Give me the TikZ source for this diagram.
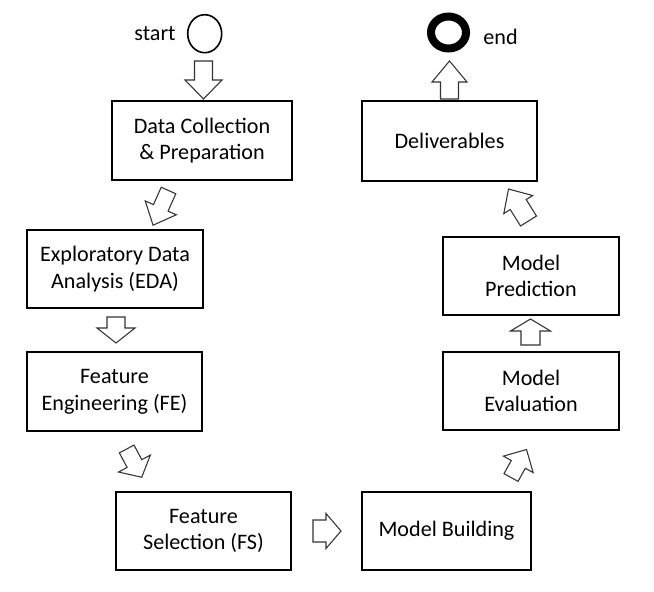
\documentclass[tikz,border=0pt]{standalone}
\usepackage{fontspec}
\setmainfont{Carlito}
\usetikzlibrary{shapes.geometric}
\tikzset{
  box/.style={draw=black, line width=0.9pt, align=center, inner sep=0pt,
    font=\fontsize{16.6pt}{20pt}\selectfont},
  lbl/.style={inner sep=0pt, font=\fontsize{16.6pt}{20pt}\selectfont},
  barrowline/.style={draw=black!80, fill=white, line width=0.8pt, line join=miter}
}
% tail x, tail y, angle, length, head length, shaft half width, head half width
\newcommand\blkarrow[7]{%
  \begin{scope}[shift={(#1,#2)}, rotate=#3]
    \pgfmathsetmacro\bsl{#4-#5}
    \draw[barrowline] (0,-#6) -- (\bsl,-#6) -- (\bsl,-#7) -- (#4,0)
      -- (\bsl,#7) -- (\bsl,#6) -- (0,#6) -- cycle;
  \end{scope}}
\begin{document}
\begin{tikzpicture}[x=0.75pt, y=-0.75pt]
\useasboundingbox[fill=white] (0,0) rectangle (654,592);

% start / end
\node[lbl] (starttxt) at (155,34) {start};
\node[draw, ellipse, line width=1.2pt, minimum width=34*0.75pt, minimum height=38*0.75pt, inner sep=0pt] (start) at (204.7,33.7) {};
\node[draw, ellipse, line width=6pt, minimum width=35*0.75pt, minimum height=32*0.75pt, inner sep=0pt] (end) at (448.5,32.5) {};
\node[lbl] (endtxt) at (500.5,37) {end};

% boxes
\node[box, minimum width=180*0.75pt, minimum height=79*0.75pt] (dc) at (202,140.5) {Data Collection\\ \& Preparation};
\node[box, minimum width=176*0.75pt, minimum height=78*0.75pt] (eda) at (115,269) {Exploratory Data\\ Analysis (EDA)};
\node[box, minimum width=175*0.75pt, minimum height=79*0.75pt] (fe) at (114.5,391.5) {Feature\\ Engineering (FE)};
\node[box, minimum width=175*0.75pt, minimum height=78*0.75pt] (fs) at (203.5,531) {Feature\\ Selection (FS)};
\node[box, minimum width=169*0.75pt, minimum height=78*0.75pt] (mb) at (446.5,531) {Model Building};
\node[box, minimum width=176*0.75pt, minimum height=78*0.75pt] (me) at (531,391) {Model\\ Evaluation};
\node[box, minimum width=176*0.75pt, minimum height=78*0.75pt] (mp) at (531,276) {Model\\ Prediction};
\node[box, minimum width=175*0.75pt, minimum height=80*0.75pt] (dl) at (449.5,141) {Deliverables};

% block arrows
\blkarrow{203.5}{61}{-90}{38}{19}{9}{18.5}
\blkarrow{168.5}{190.5}{-114}{38}{19}{8}{17}
\blkarrow{116}{317}{-90}{26}{15}{9}{19}
\blkarrow{126.7}{449}{-62}{32}{15.5}{8.3}{18}
\blkarrow{313}{531}{0}{28}{15}{11}{17.5}
\blkarrow{511}{477.5}{61}{32}{17}{8}{17}
\blkarrow{530.5}{345}{90}{26}{12}{9.5}{20}
\blkarrow{528.5}{221}{122}{37.7}{18.3}{9.4}{17}
\blkarrow{449.5}{99}{90}{38}{21}{9}{17.5}
\end{tikzpicture}
\end{document}
